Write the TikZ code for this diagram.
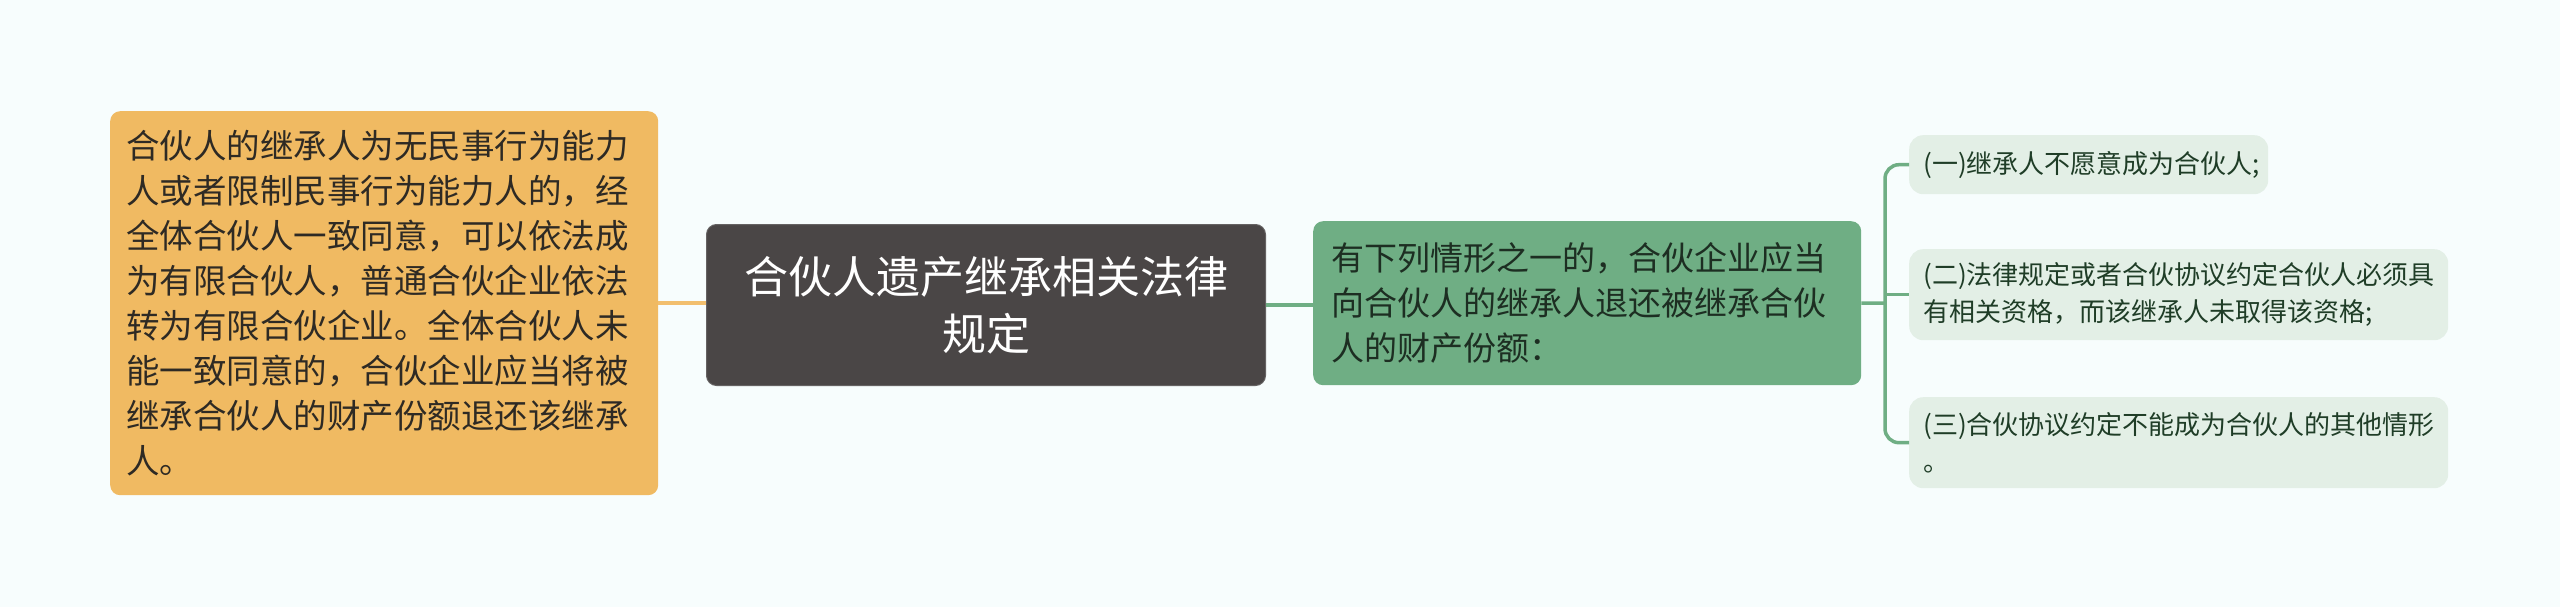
\documentclass[tikz,border=0pt]{standalone}
\usepackage{fontspec}
\setmainfont{Noto Sans CJK SC}
\definecolor{bgc}{HTML}{F7FDFD}
\definecolor{orangebox}{HTML}{F0BA62}
\definecolor{orangeline}{HTML}{F2BF6E}
\definecolor{darkbox}{HTML}{4A4646}
\definecolor{greenbox}{HTML}{6FAE84}
\definecolor{lightgreen}{HTML}{E3EFE6}
\definecolor{lefttext}{HTML}{2E2A24}
\definecolor{greentext}{HTML}{1D2E22}
\definecolor{righttext}{HTML}{1F3D27}
\tikzset{
  leftbox/.style={anchor=north west, fill=orangebox, rounded corners=10pt, inner xsep=16pt, inner ysep=0pt,
    text width=516pt, minimum height=384pt, align=left, text=lefttext, font=\fontsize{33.5}{45}\selectfont},
  centerbox/.style={anchor=north west, fill=darkbox, draw=darkbox!85!white, line width=1pt, rounded corners=10pt, inner xsep=10pt, inner ysep=0pt,
    text width=539pt, minimum height=161pt, align=center, text=white, font=\fontsize{44}{57}\selectfont},
  greenbox/.style={anchor=north west, fill=greenbox, rounded corners=10pt, inner xsep=18pt, inner ysep=0pt,
    text width=512pt, minimum height=164pt, align=left, text=greentext, font=\fontsize{33}{45}\selectfont},
  itembox/.style={anchor=north west, fill=lightgreen, rounded corners=14pt, inner xsep=14pt, inner ysep=0pt,
    align=left, text=righttext, font=\fontsize{26}{37.5}\selectfont},
  oline/.style={draw=orangeline, line width=3.5pt},
  gline/.style={draw=greenbox, line width=3.5pt},
}
\begin{document}
\begin{tikzpicture}[x=1pt, y=-1pt]
\useasboundingbox (0,0) rectangle (2560,607);
\fill[bgc] (0,0) rectangle (2560,607);

\node[leftbox] (left) at (110,111) {合伙人的继承人为无民事行为能力\\人或者限制民事行为能力人的，经\\全体合伙人一致同意，可以依法成\\为有限合伙人，普通合伙企业依法\\转为有限合伙企业。全体合伙人未\\能一致同意的，合伙企业应当将被\\继承合伙人的财产份额退还该继承\\人。};

\node[centerbox] (center) at (706,224) {合伙人遗产继承相关法律\\规定};

\node[greenbox] (green) at (1313,221) {有下列情形之一的，合伙企业应当\\向合伙人的继承人退还被继承合伙\\人的财产份额：};

\node[itembox, text width=331pt, minimum height=59pt] (b1) at (1909,135) {(一)继承人不愿意成为合伙人;};
\node[itembox, text width=511pt, minimum height=91pt] (b2) at (1909,249) {(二)法律规定或者合伙协议约定合伙人必须具\\有相关资格，而该继承人未取得该资格;};
\node[itembox, text width=511pt, minimum height=91pt] (b3) at (1909,397) {(三)合伙协议约定不能成为合伙人的其他情形\\。};

\draw[oline] (left.east) -- (left.east -| center.west);
\draw[gline] (center.east) -- (center.east -| green.west);
\coordinate (bx) at (1885,303);
\draw[gline] (green.east) -- (bx);
\draw[gline, rounded corners=14pt] (b1.west) -| (bx) |- (b3.west);
\draw[gline] (bx |- b2.west) -- (b2.west);
\end{tikzpicture}
\end{document}
